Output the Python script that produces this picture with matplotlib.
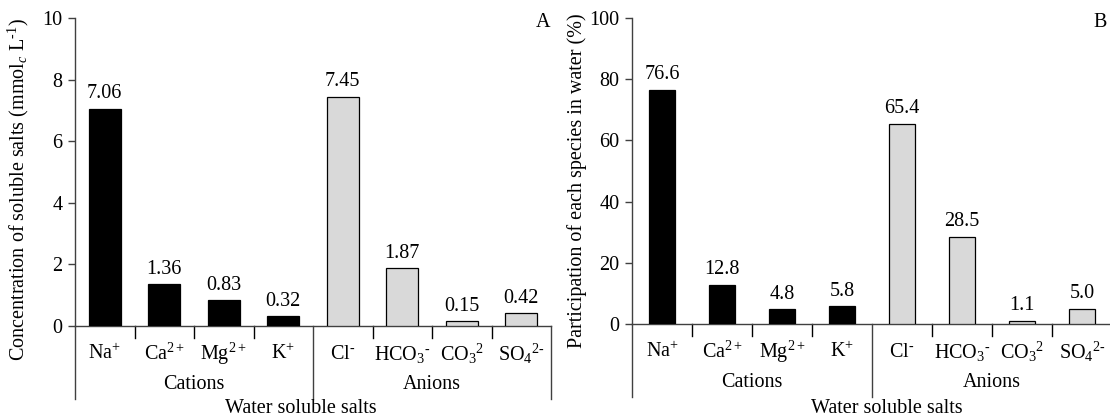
import matplotlib
matplotlib.use("Agg")
import matplotlib.pyplot as plt
from matplotlib.transforms import blended_transform_factory, offset_copy

plt.rcParams['font.family'] = ['Liberation Serif', 'DejaVu Serif']
plt.rcParams['mathtext.fontset'] = 'custom'
plt.rcParams['mathtext.rm'] = 'Liberation Serif'
plt.rcParams['mathtext.it'] = 'Liberation Serif:italic'

species = [r'Na$^{+}$', r'Ca$^{2+}$', r'Mg$^{2+}$', r'K$^{+}$',
           r'Cl$^{\text{-}}$', r'HCO$_3{}^{\text{-}}$', r'CO$_3{}^{2}$', r'SO$_4{}^{2\text{-}}$']
groups = ['Cations', 'Anions']
conc = [7.06, 1.36, 0.83, 0.32, 7.45, 1.87, 0.15, 0.42]
conc_labels = ['7.06', '1.36', '0.83', '0.32', '7.45', '1.87', '0.15', '0.42']
share = [76.6, 12.8, 4.8, 5.8, 65.4, 28.5, 1.1, 5.0]
share_labels = ['76.6', '12.8', '4.8', '5.8', '65.4', '28.5', '1.1', '5.0']
colors = ['#000000'] * 4 + ['#d9d9d9'] * 4

FS = 14.5
AX_COLOR = '#404040'

fig = plt.figure(figsize=(11.10, 4.19), dpi=100)
W, H = 1110, 419


def make_ax(x0, x1, ytop, yzero):
    return fig.add_axes([x0 / W, (H - yzero) / H, (x1 - x0) / W, (yzero - ytop) / H])


def draw_panel(ax, vals, labels, ymax, bar_w, ylabel, ylabel_x, ylabel_y, letter, title_x, wss_x, wss_dy):
    xs = list(range(len(vals)))
    ax.bar(xs, vals, width=bar_w, color=colors, edgecolor='#000000', linewidth=0.9, zorder=3)
    ax.set_xlim(-0.5, len(vals) - 0.5)
    ax.set_ylim(0, ymax)
    ax.set_yticks([ymax * i / 5 for i in range(6)])
    ax.set_yticklabels([f'{int(ymax * i / 5)}' for i in range(6)], fontsize=FS)
    ax.tick_params(axis='y', direction='out', length=5, width=1, color=AX_COLOR, pad=4)
    ax.set_xticks([])
    for s in ['top', 'right']:
        ax.spines[s].set_visible(False)
    for s in ['left', 'bottom']:
        ax.spines[s].set_color(AX_COLOR)
        ax.spines[s].set_linewidth(1.0)
    for x, v, t in zip(xs, vals, labels):
        ax.annotate(t, (x, v), xytext=(0, 7.5), textcoords='offset points',
                    ha='center', va='baseline', fontsize=FS)
    bt = blended_transform_factory(ax.transData, ax.transAxes)

    def off(dy):
        return offset_copy(bt, fig=fig, x=0, y=-dy, units='dots')

    for x, s in zip(xs, species):
        ax.text(x, 0, s, transform=off(28), ha='center', va='center', fontsize=FS)
    ax.text(1.5, 0, groups[0], transform=off(58), ha='center', va='center', fontsize=FS)
    ax.text(5.5, 0, groups[1], transform=off(58), ha='center', va='center', fontsize=FS)
    ax.text(wss_x, 0, 'Water soluble salts', transform=off(wss_dy), ha='center', va='center', fontsize=FS)

    ax_h_px = ax.get_position().height * H
    for x in [-0.5, 3.5, 7.5]:
        ax.plot([x, x], [0, -73 / ax_h_px], transform=bt, clip_on=False, color=AX_COLOR, lw=1.0)
    for x in [0.5, 1.5, 2.5, 4.5, 5.5, 6.5]:
        ax.plot([x, x], [0, -12 / ax_h_px], transform=bt, clip_on=False, color='#000000', lw=1.0)
    ax.text(ylabel_x, ylabel_y, ylabel, transform=ax.transAxes, rotation=90,
            ha='center', va='center', fontsize=FS)
    ax.text(title_x, 0.985, letter, transform=ax.transAxes, ha='center', va='center', fontsize=FS)


ax1 = make_ax(75, 551, 18, 326)
draw_panel(ax1, conc, conc_labels, 10, 0.53,
           r'Concentration of soluble salts (mmol$_c$ L$^{\text{-}1}$)',
           (18 - 75) / 476, (326 - 190) / 308, 'A', (543 - 75) / 476, 3.3, 82)

ax2 = make_ax(632, 1112, 18, 324)
draw_panel(ax2, share, share_labels, 100, 0.42,
           'Participation of each species in water (%)',
           (577 - 632) / 480, (324 - 181) / 306, 'B', (1100 - 632) / 480, 3.75, 84)

fig.savefig('out.png', dpi=100)
